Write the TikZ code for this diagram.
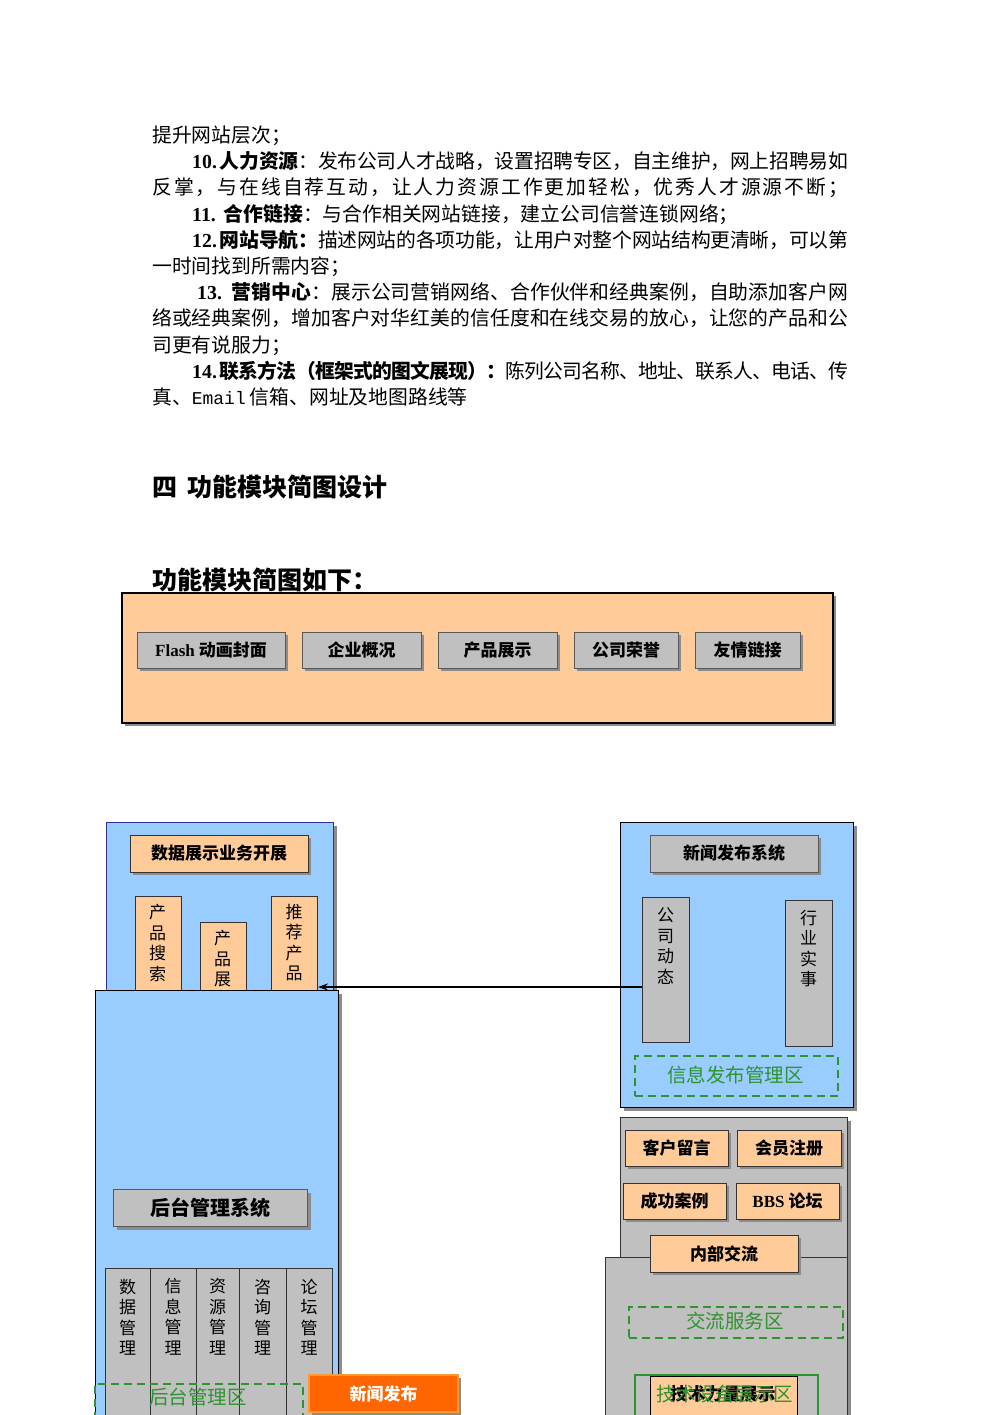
\documentclass[tikz,border=0pt]{standalone}
\usepackage{fontspec}
\setmainfont{Noto Sans CJK SC}
\newfontfamily\lat{Liberation Serif}
\newfontfamily\mono{Liberation Mono}
\usetikzlibrary{shadows,arrows.meta}
\def\spr#1{\sprA#1\relax}
\def\sprA#1{\ifx#1\relax\else#1\hskip 0pt plus 1fil minus 1.5pt\expandafter\sprA\fi}
\definecolor{peach}{HTML}{FFCC99}
\definecolor{gbox}{HTML}{C0C0C0}
\definecolor{bluep}{HTML}{99CCFF}
\definecolor{zgreen}{HTML}{2F932F}
\definecolor{orng}{HTML}{FF6600}
\definecolor{orngline}{HTML}{FF9933}
\definecolor{navy}{HTML}{333399}
\tikzset{
  sh/.style={drop shadow={shadow xshift=3pt,shadow yshift=-3pt,fill=black!45,opacity=1}},
  txt/.style={anchor=base west,inner sep=0pt,font=\fontsize{19.8}{24}\selectfont},
  head/.style={anchor=base west,inner sep=0pt,font=\fontsize{25}{30}\selectfont\bfseries},
  btn/.style={draw=black!65,line width=1pt,fill=gbox,sh,inner sep=0pt,font=\fontsize{17}{20}\selectfont\bfseries},
  pbtn/.style={btn,fill=peach,draw=black!80},
  panel/.style={draw=black,line width=1.2pt,fill=bluep,anchor=north west,inner sep=0pt},
  gpanel/.style={draw=black!80,line width=1.2pt,fill=gbox,anchor=north west,inner sep=0pt},
  vbox/.style={draw=black!80,line width=1pt,anchor=north west,inner sep=0pt},
  vtxt/.style={anchor=north,inner sep=0pt,align=center,font=\fontsize{17}{20.5}\selectfont},
  zone/.style={draw=zgreen,line width=1.5pt,dash pattern=on 8pt off 5pt,anchor=north west,inner sep=0pt},
  zonetxt/.style={inner sep=0pt,text=zgreen,font=\fontsize{19.5}{22}\selectfont},
}
\begin{document}
\begin{tikzpicture}[x=1pt,y=-1pt]
\useasboundingbox[fill=white] (0,0) rectangle (1000,1415);

% ---------- body text ----------
\node[txt] (l1) at (152,142.5) {提升网站层次；};
\node[txt] (l2) at (192,168.7) {\hbox to 656pt{\textbf{{\lat 10.}\hspace{3pt}\spr{人力资源}}\spr{：发布公司人才战略，设置招聘专区，自主维护，网上招聘易}如}};
\node[txt] (l3) at (152,194.9) {\hbox to 696pt{\spr{反掌，与在线自荐互动，让人力资源工作更加轻松，优秀人才源源不断}；}};
\node[txt] (l4) at (192,221.1) {\textbf{{\lat 11.}\hspace{8pt}合作链接}：与合作相关网站链接，建立公司信誉连锁网络；};
\node[txt] (l5) at (192,247.3) {\hbox to 656pt{\textbf{{\lat 12.}\hspace{3pt}\spr{网站导航：}}\spr{描述网站的各项功能，让用户对整个网站结构更清晰，可以}第}};
\node[txt] (l6) at (152,273.5) {一时间找到所需内容；};
\node[txt] (l7) at (197,299.7) {\hbox to 651pt{\textbf{{\lat 13.}\hspace{10pt}\spr{营销中心}}\spr{：展示公司营销网络、合作伙伴和经典案例，自助添加客户}网}};
\node[txt] (l8) at (152,325.9) {\hbox to 696pt{\spr{络或经典案例，增加客户对华红美的信任度和在线交易的放心，让您的产品和}公}};
\node[txt] (l9) at (152,352.1) {司更有说服力；};
\node[txt] (l10) at (192,378.3) {\hbox to 656pt{\textbf{{\lat 14.}\hspace{3pt}\spr{联系方法（框架式的图文展现）：}}\spr{陈列公司名称、地址、联系人、电话、}传}};
\node[txt] (l11) at (152,404.5) {真、{\mono\fontsize{18}{20}\selectfont Email}\hspace{4pt}信箱、网址及地图路线等};

\node[head] (h1) at (152,496.5) {四\hspace{10pt}功能模块简图设计};
\node[head] (h2) at (152,589.5) {功能模块简图如下：};

% ---------- top orange panel ----------
\node[draw=black,line width=1.5pt,fill=peach,anchor=north west,inner sep=0pt,
      minimum width=711,minimum height=130,sh] (top) at (121,592) {};
\node[btn,minimum width=148,minimum height=36] (flash) at (211,650) {{\lat Flash} 动画封面};
\node[btn,minimum width=119,minimum height=36] (qiye) at (361.5,650) {企业概况};
\node[btn,minimum width=119,minimum height=36] (cpzs) at (497.5,650) {产品展示};
\node[btn,minimum width=104,minimum height=36] (ry) at (626,650) {公司荣誉};
\node[btn,minimum width=105,minimum height=36] (lj) at (747.5,650) {友情链接};

% ---------- left panel ----------
\node[panel,draw=navy,minimum width=227,minimum height=168,sh] (lup) at (106,822) {};
\node[pbtn,minimum width=178,minimum height=37] (sjzs) at (219,853.5) {数据展示业务开展};
\node[vbox,fill=peach,minimum width=46,minimum height=94] (ss) at (135,896) {};
\node[vbox,fill=peach,minimum width=46,minimum height=68] (zs) at (199.5,922) {};
\node[vbox,fill=peach,minimum width=46,minimum height=94] (tj) at (271,896) {};
\node[vtxt] (ssT) at (157.5,904) {产\\品\\搜\\索};
\node[vtxt] (zsT) at (222.5,930) {产\\品\\展};
\node[vtxt] (tjT) at (294,904) {推\\荐\\产\\品};

\node[panel,minimum width=243,minimum height=440,sh] (llow) at (95,990) {};
\node[btn,minimum width=194,minimum height=37,font=\fontsize{20}{22}\selectfont\bfseries] (htgl) at (210.5,1208) {后台管理系统};
\node[vbox,fill=gbox,minimum width=45,minimum height=170] (c1) at (105,1268) {};
\node[vbox,fill=gbox,minimum width=46,minimum height=170] (c2) at (150,1268) {};
\node[vbox,fill=gbox,minimum width=43,minimum height=170] (c3) at (196,1268) {};
\node[vbox,fill=gbox,minimum width=47,minimum height=170] (c4) at (239,1268) {};
\node[vbox,fill=gbox,minimum width=46,minimum height=170] (c5) at (286,1268) {};
\node[vtxt] (c1T) at (127.5,1278.5) {数\\据\\管\\理};
\node[vtxt] (c2T) at (173,1278.5) {信\\息\\管\\理};
\node[vtxt] (c3T) at (217.5,1278.5) {资\\源\\管\\理};
\node[vtxt] (c4T) at (262.5,1278.5) {咨\\询\\管\\理};
\node[vtxt] (c5T) at (309,1278.5) {论\\坛\\管\\理};
\node[zone,minimum width=208,minimum height=50] (htq) at (94,1383) {};
\node[zonetxt] (htqT) at (198,1397) {后台管理区};
\node[draw=orngline,line width=1.5pt,fill=orng,inner sep=0pt,minimum width=149,minimum height=37,sh,
      text=white,font=\fontsize{17}{20}\selectfont\bfseries] (xwfb) at (383.5,1393.5) {新闻发布};

% ---------- right panel ----------
\node[panel,minimum width=233,minimum height=285,sh] (rp) at (620,822) {};
\node[btn,minimum width=168,minimum height=37] (xwxt) at (734,853.5) {新闻发布系统};
\node[vbox,fill=gbox,minimum width=47,minimum height=145] (gsdt) at (642,897) {};
\node[vbox,fill=gbox,minimum width=47,minimum height=146] (hyss) at (785,900) {};
\node[vtxt] (gsdtT) at (665.5,907.5) {公\\司\\动\\态};
\node[vtxt] (hyssT) at (808.5,909.5) {行\\业\\实\\事};
\node[zone,minimum width=203,minimum height=40] (xxq) at (634,1055) {};
\node[zonetxt] (xxqT) at (735.5,1075) {信息发布管理区};

% arrow
\coordinate (arry) at (0,987);
\draw[line width=1.5pt,-{Stealth[length=10pt,width=7pt]}] (gsdt.west |- arry) -- (tj.east |- arry);

% ---------- right bottom ----------
\node[gpanel,minimum width=227,minimum height=140,sh] (rup) at (620,1117) {};
\node[pbtn,minimum width=103,minimum height=36] (khly) at (676.5,1148) {客户留言};
\node[pbtn,minimum width=104,minimum height=36] (hyzc) at (789,1148) {会员注册};
\node[pbtn,minimum width=103,minimum height=36] (cgal) at (674.5,1201) {成功案例};
\node[pbtn,minimum width=103,minimum height=36] (bbs) at (787.5,1201) {{\lat BBS} 论坛};
\node[gpanel,minimum width=242,minimum height=180,sh] (rlow) at (605,1257) {};
\node[pbtn,minimum width=148,minimum height=37] (nbjl) at (724,1253.5) {内部交流};
\node[zone,minimum width=214,minimum height=31] (jlq) at (628,1306) {};
\node[zonetxt] (jlqT) at (735,1321) {交流服务区};
\node[draw=zgreen,line width=1.5pt,anchor=north west,inner sep=0pt,minimum width=183,minimum height=60] (sbq) at (634,1374) {};
\node[vbox,fill=peach,draw=black,minimum width=147,minimum height=60] (jsll) at (650,1376) {};
\node[inner sep=0pt,font=\fontsize{17.5}{20}\selectfont\bfseries] (jsllT) at (723,1394) {技术力量展示};
\node[zonetxt] (sbqT) at (725,1394) {技术设备展示区};
\end{tikzpicture}
\end{document}
